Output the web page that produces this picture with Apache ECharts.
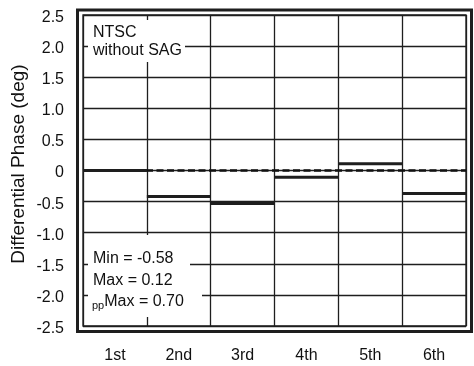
<!DOCTYPE html>
<html><head><meta charset="utf-8">
<script src="https://cdn.jsdelivr.net/npm/echarts@6/dist/echarts.min.js"></script>
<style>html,body{margin:0;padding:0;background:#fff}#c{width:474px;height:366px}</style>
</head><body><div id="c"></div>
<script>
const categories = ['1st', '2nd', '3rd', '4th', '5th', '6th'];
const phaseValues = [0, -0.42, -0.53, -0.11, 0.11, -0.37];
const yTickLabels = ['-2.5', '-2.0', '-1.5', '-1.0', '-0.5', '0', '0.5', '1.0', '1.5', '2.0', '2.5'];
const yMin = -2.5, yMax = 2.5, yStep = 0.5;
const yTitle = 'Differential Phase (deg)';
const boxTop = ['NTSC', 'without SAG'];
const statMin = '-0.58', statMax = '0.12', statPP = '0.70';

const FONT = 'Liberation Sans, Arial, Helvetica, sans-serif';
const INK = '#1e1e1e';
const chart = echarts.init(document.getElementById('c'), null, {renderer: 'canvas'});

chart.setOption({
  animation: false,
  backgroundColor: '#fff',
  grid: {left: 83, right: 8, top: 15, bottom: 40, show: true, borderColor: INK, borderWidth: 1.3},
  xAxis: {
    type: 'category', data: categories, boundaryGap: true,
    axisLine: {show: false}, axisTick: {show: false},
    axisLabel: {color: '#111', fontFamily: FONT, fontSize: 16, margin: 22},
    splitLine: {show: true, interval: 0, lineStyle: {color: INK, width: 1.3}}
  },
  yAxis: {
    type: 'value', min: yMin, max: yMax, interval: yStep,
    axisLine: {show: false}, axisTick: {show: false},
    axisLabel: {color: '#111', fontFamily: FONT, fontSize: 16, margin: 19,
      verticalAlign: 'top', lineHeight: 5,
      formatter: v => yTickLabels[Math.round((v - yMin) / yStep)]},
    splitLine: {show: true, lineStyle: {color: INK, width: 1.3}}
  },
  series: [
    {
      type: 'line', data: [], z: 3,
      markLine: {silent: true, symbol: 'none', label: {show: false},
        lineStyle: {color: '#111', width: 2.5, type: [7, 3.5]},
        data: [{yAxis: 0}]}
    },
    {
      type: 'custom', z: 5,
      data: phaseValues.map((v, i) => [i, v]),
      renderItem: function (params, api) {
        const p = api.coord([api.value(0), api.value(1)]);
        const w = api.size([1, 0])[0];
        return {type: 'line', shape: {x1: p[0] - w / 2, y1: p[1], x2: p[0] + w / 2, y2: p[1]},
          style: {stroke: INK, lineWidth: 3}};
      }
    }
  ],
  graphic: [
    {type: 'text', z: 11, x: 19, y: 164, rotation: Math.PI / 2,
      style: {text: yTitle, font: '19px ' + FONT, fill: '#111', textAlign: 'center', textVerticalAlign: 'middle'}},
    {type: 'rect', z: 10, shape: {x: 77.5, y: 10, width: 394, height: 321.5},
      style: {fill: 'none', stroke: INK, lineWidth: 3}},
    {type: 'rect', z: 10, shape: {x: 88, y: 20, width: 97, height: 42}, style: {fill: '#fff'}},
    {type: 'text', z: 11, x: 93, y: 33, style: {text: boxTop[0], font: '16px ' + FONT, fill: '#111', textVerticalAlign: 'middle'}},
    {type: 'text', z: 11, x: 93, y: 51, style: {text: boxTop[1], font: '16px ' + FONT, fill: '#111', textVerticalAlign: 'middle'}},
    {type: 'rect', z: 10, shape: {x: 88, y: 235, width: 102, height: 46}, style: {fill: '#fff'}},
    {type: 'rect', z: 10, shape: {x: 88, y: 280, width: 114, height: 37}, style: {fill: '#fff'}},
    {type: 'text', z: 11, x: 93, y: 259, style: {text: 'Min = ' + statMin, font: '16px ' + FONT, fill: '#111', textVerticalAlign: 'middle'}},
    {type: 'text', z: 11, x: 93, y: 281, style: {text: 'Max = ' + statMax, font: '16px ' + FONT, fill: '#111', textVerticalAlign: 'middle'}},
    {type: 'text', z: 11, x: 92, y: 302, style: {
      text: '{s|pp}{n|Max = ' + statPP + '}', textVerticalAlign: 'middle',
      rich: {s: {font: '11px ' + FONT, fill: '#111', padding: [8, 0, 0, 0]},
             n: {font: '16px ' + FONT, fill: '#111'}}}}
  ]
});
</script></body></html>
